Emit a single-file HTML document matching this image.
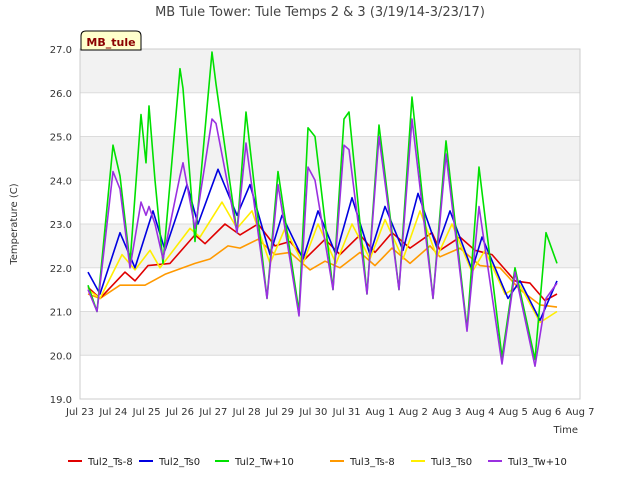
<!DOCTYPE html>
<html><head><meta charset="utf-8"><style>
body{margin:0;background:#fff;font-family:"Liberation Sans","DejaVu Sans",sans-serif}
</style></head><body>
<svg id="c" width="640" height="480" xmlns="http://www.w3.org/2000/svg" font-family="DejaVu Sans, Liberation Sans, sans-serif">
<text x="320" y="16" text-anchor="middle" font-size="13" fill="#444">MB Tule Tower: Tule Temps 2 &amp; 3 (3/19/14-3/23/17)</text>
<g id="bands"></g><g id="grid"></g>
<rect x="80" y="49" width="500" height="350" fill="none" stroke="#ccc"/>
<g id="ticks" font-size="10" fill="#333"></g>
<text transform="translate(17,224) rotate(-90)" text-anchor="middle" font-size="10" fill="#333">Temperature (C)</text>
<text x="578" y="433" text-anchor="end" font-size="10" fill="#333">Time</text>
<g id="series"></g>
<g>
<path d="M81,50 L81,36 Q81,31 86,31 L136,31 Q141,31 141,36 L141,50 Z" fill="#ffffcc" stroke="#000"/>
<text x="111" y="46" text-anchor="middle" font-size="11" font-weight="bold" fill="#8b0000">MB_tule</text>
</g>
<g id="legend" font-size="10" fill="#222"></g>
</svg>
<script>
const yTicks=[19,20,21,22,23,24,25,26,27];
const xTickLabels=["Jul 23","Jul 24","Jul 25","Jul 26","Jul 27","Jul 28","Jul 29","Jul 30","Jul 31","Aug 1","Aug 2","Aug 3","Aug 4","Aug 5","Aug 6","Aug 7"];
const seriesNames=["Tul2_Ts-8","Tul2_Ts0","Tul2_Tw+10","Tul3_Ts-8","Tul3_Ts0","Tul3_Tw+10"];
const seriesColors=["#e00000","#0000e0","#00e000","#ff9900","#ffee00","#9a30e0"];
const tRed=[.24,.6,1.35,1.65,2.04,2.7,3.45,3.75,4.35,4.8,5.34,5.85,6.3,6.75,7.35,7.8,8.4,8.85,9.36,9.9,10.56,10.8,11.4,11.85,12.36,13.05,13.5,13.95,14.31];
const vRed=[21.55,21.3,21.9,21.7,22.05,22.1,22.75,22.55,23.0,22.75,23.0,22.5,22.6,22.2,22.65,22.3,22.75,22.35,22.8,22.45,22.8,22.4,22.7,22.4,22.3,21.7,21.65,21.25,21.4];
const tBlue=[.24,.6,1.2,1.65,2.19,2.55,3.21,3.54,4.14,4.71,5.1,5.7,6.06,6.69,7.14,7.68,8.16,8.7,9.15,9.69,10.14,10.71,11.1,11.76,12.06,12.84,13.2,13.8,14.31];
const vBlue=[21.9,21.4,22.8,22.0,23.3,22.4,23.9,23.0,24.25,23.2,23.9,22.3,23.2,22.2,23.3,22.3,23.6,22.3,23.4,22.4,23.7,22.45,23.3,21.95,22.7,21.3,21.7,20.8,21.7];
const tGreen=[.24,.51,.99,1.2,1.5,1.83,1.98,2.07,2.25,2.49,3.0,3.09,3.45,3.96,4.08,4.71,4.98,5.61,5.94,6.57,6.84,7.05,7.59,7.92,8.07,8.61,8.97,9.57,9.96,10.59,10.98,11.61,11.97,12.66,13.05,13.65,13.98,14.31];
const vGreen=[21.6,21.0,24.8,24.1,22.1,25.5,24.4,25.7,24.0,22.1,26.55,26.1,22.6,26.93,26.2,22.8,25.56,21.3,24.2,21.0,25.2,25.0,21.5,25.4,25.56,21.4,25.26,21.5,25.9,21.3,24.9,20.6,24.3,19.95,22.0,19.9,22.8,22.1];
const tOrange=[.24,.6,1.2,1.95,2.55,3.45,3.9,4.44,4.8,5.34,5.85,6.3,6.9,7.35,7.8,8.4,8.85,9.36,9.9,10.5,10.8,11.4,12.0,12.6,13.2,13.8,14.31];
const vOrange=[21.4,21.3,21.6,21.6,21.85,22.1,22.2,22.5,22.45,22.65,22.3,22.35,21.95,22.15,22.0,22.35,22.05,22.45,22.1,22.5,22.25,22.45,22.05,22.0,21.5,21.15,21.1];
const tYellow=[.24,.6,1.26,1.65,2.1,2.4,3.3,3.6,4.26,4.71,5.16,5.7,6.15,6.69,7.14,7.68,8.16,8.7,9.15,9.69,10.2,10.71,11.16,11.76,12.15,12.75,13.2,13.8,14.31];
const vYellow=[21.5,21.3,22.3,21.95,22.4,22.0,22.9,22.7,23.5,22.9,23.3,22.1,22.9,22.1,23.0,22.1,23.0,22.2,23.1,22.2,23.3,22.25,23.0,21.9,22.4,21.4,21.6,20.75,21.0];
const tPurple=tGreen;
const vPurple=[21.5,21.0,24.2,23.8,22.0,23.5,23.2,23.4,23.0,22.2,24.1,24.4,22.9,25.4,25.3,22.8,24.85,21.3,23.9,20.9,24.3,24.0,21.5,24.8,24.7,21.4,25.0,21.5,25.4,21.3,24.6,20.55,23.4,19.8,21.9,19.75,21.3,21.65];

const X0=80,X1=580,Y0=399,Y1=49;
const xs=t=>X0+t*(X1-X0)/15;
const ys=v=>Y0-(v-19)*(Y0-Y1)/8;
const NS="http://www.w3.org/2000/svg";
function mk(tag,attrs,parent){const e=document.createElementNS(NS,tag);for(const k in attrs)e.setAttribute(k,attrs[k]);parent.appendChild(e);return e;}
const bands=document.getElementById('bands'),grid=document.getElementById('grid'),ticks=document.getElementById('ticks');
[20,22,24,26].forEach(v=>{const r=mk('rect',{x:X0,y:ys(v+1),width:X1-X0,height:ys(v)-ys(v+1),fill:'#f2f2f2'},bands);

});
yTicks.forEach(v=>{const l=mk('line',{x1:X0,x2:X1,y1:ys(v),y2:ys(v),stroke:'#dcdcdc'},grid);


const t=mk('text',{x:X0-8,y:ys(v)+4,'text-anchor':'end'},ticks);t.textContent=v.toFixed(1);

});
xTickLabels.forEach((s,i)=>{const t=mk('text',{x:xs(i),y:Y0+16,'text-anchor':'middle'},ticks);t.textContent=s;

});
const ser=document.getElementById('series');
const data=[[tRed,vRed],[tBlue,vBlue],[tGreen,vGreen],[tOrange,vOrange],[tYellow,vYellow],[tPurple,vPurple]];
const order=[3,0,4,1,2,5];
order.forEach(i=>{const [T,V]=data[i];const d=T.map((t,j)=>(j?'L':'M')+xs(t).toFixed(1)+','+ys(V[j]).toFixed(1)).join(' ');
const p=mk('path',{d:d,fill:'none',stroke:seriesColors[i],'stroke-width':1.6,'stroke-linejoin':'round'},ser);

});
const lg=document.getElementById('legend');
const lx=[68,139,215,330,411,488];
seriesNames.forEach((n,i)=>{const g=mk('g',{},lg);


mk('line',{x1:lx[i],x2:lx[i]+14,y1:461,y2:461,stroke:seriesColors[i],'stroke-width':2},g);
const t=mk('text',{x:lx[i]+20,y:465},g);t.textContent=n;});
</script>
</body></html>
